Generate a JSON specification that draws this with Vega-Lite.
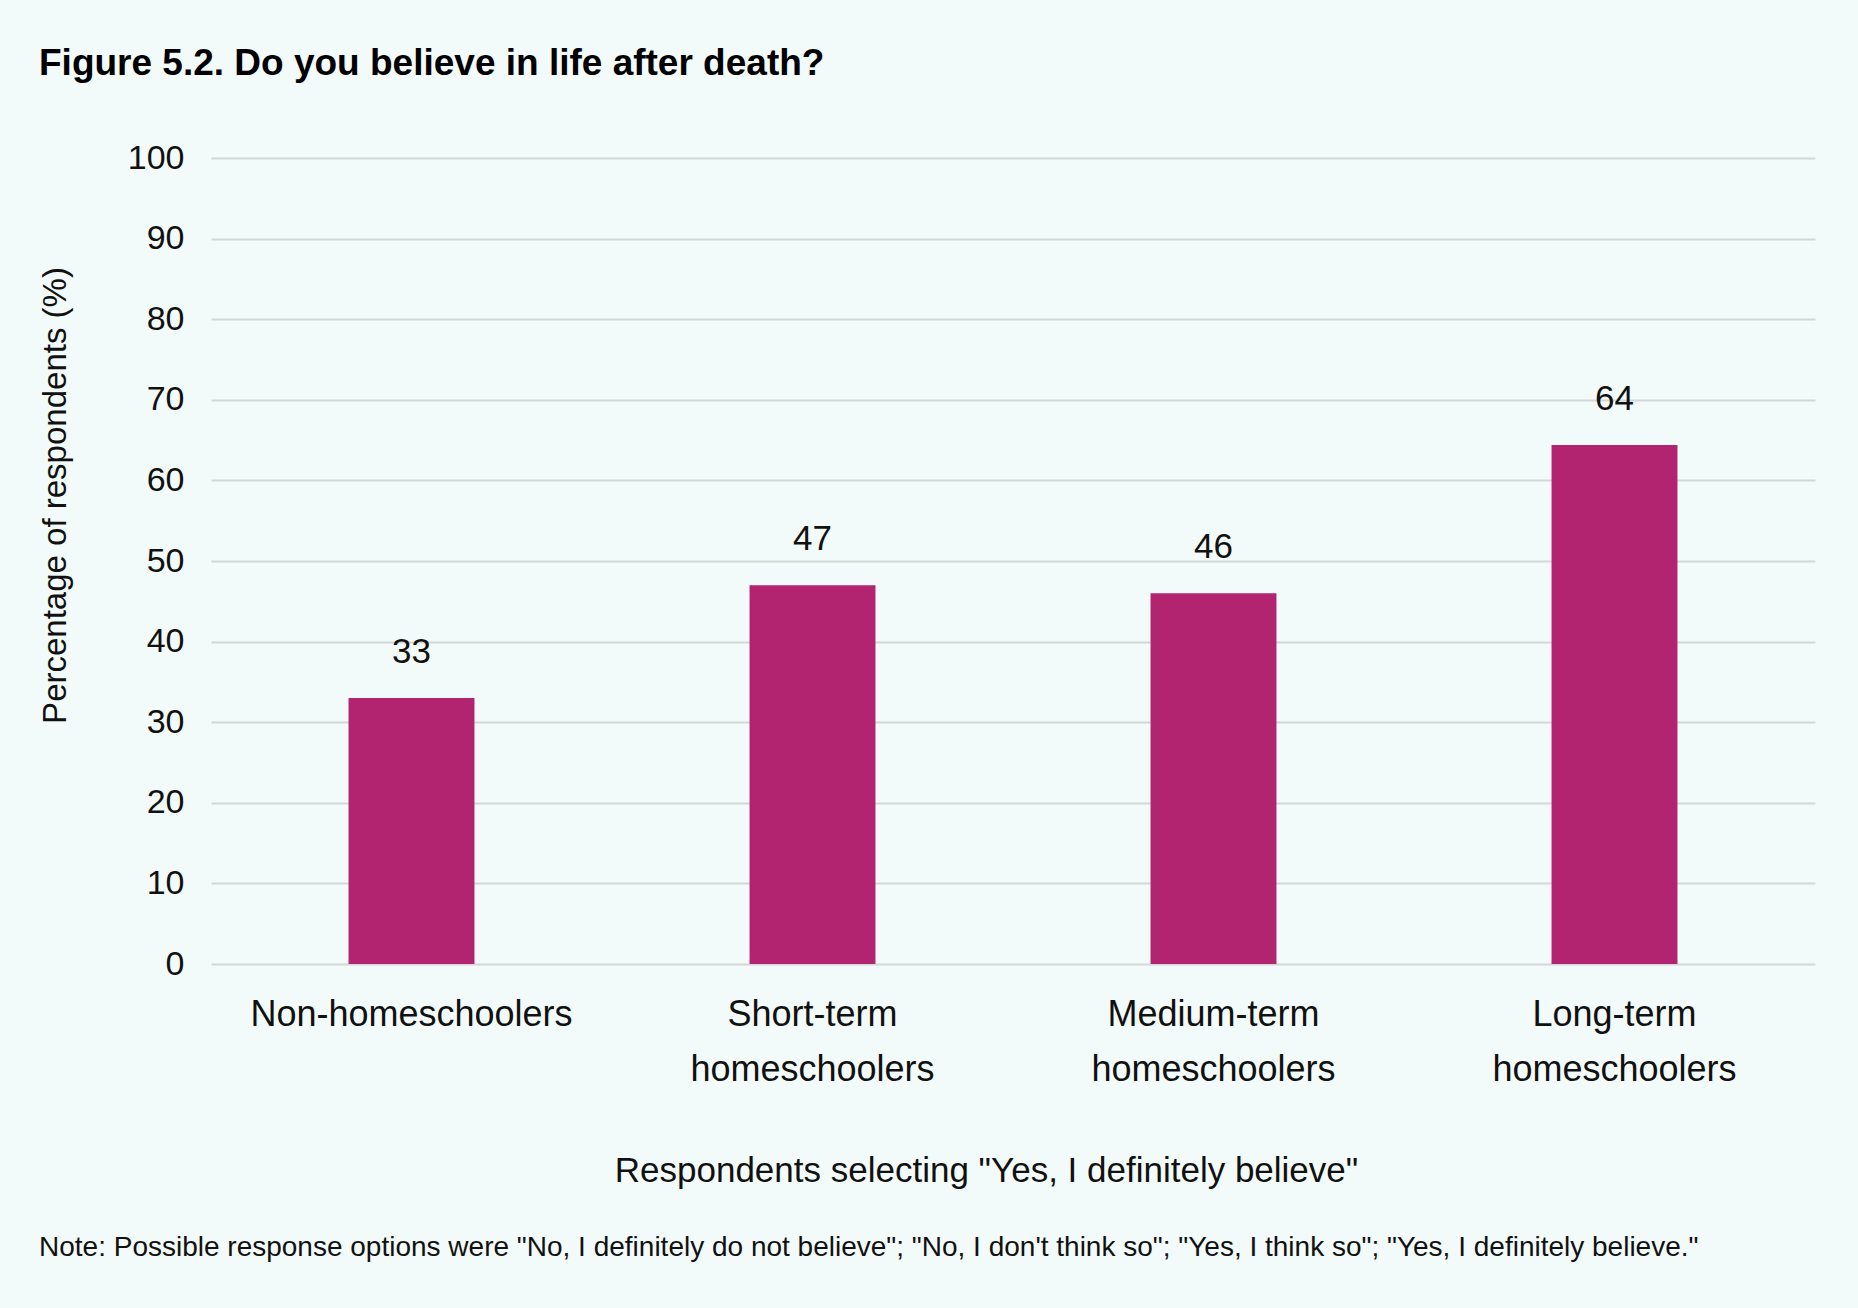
{
  "$schema": "https://vega.github.io/schema/vega-lite/v6.json",
  "background": "#F3FBFA",
  "padding": {"left": 39, "top": 45, "right": 55, "bottom": 70},
  "title": {
    "text": "Note: Possible response options were \"No, I definitely do not believe\"; \"No, I don't think so\"; \"Yes, I think so\"; \"Yes, I definitely believe.\"",
    "orient": "bottom",
    "anchor": "start",
    "frame": "bounds",
    "font": "Liberation Sans",
    "fontSize": 28,
    "fontWeight": "normal",
    "color": "#111111",
    "offset": 46
  },
  "config": {
    "view": {"stroke": null},
    "font": "Liberation Sans"
  },
  "vconcat": [
    {
      "width": 1604,
      "height": 806,
      "title": {
        "text": "Figure 5.2. Do you believe in life after death?",
        "anchor": "start",
        "frame": "bounds",
        "font": "Liberation Sans",
        "fontSize": 37,
        "fontWeight": "bold",
        "color": "#000000",
        "offset": 58
      },
      "data": {
        "values": [
          {"group": "Non-homeschoolers", "value": 33},
          {"group": "Short-term homeschoolers", "value": 47},
          {"group": "Medium-term homeschoolers", "value": 46},
          {"group": "Long-term homeschoolers", "value": 64.4}
        ]
      },
      "encoding": {
        "x": {
          "field": "group",
          "type": "nominal",
          "sort": null,
          "scale": {"paddingInner": 0.686, "paddingOuter": 0.343},
          "axis": {
            "title": "Respondents selecting \"Yes, I definitely believe\"",
            "titleFontSize": 35,
            "titleFontWeight": "normal",
            "titleColor": "#111111",
            "titleAlign": "center",
            "titleBaseline": "alphabetic",
            "titleX": 775,
            "titleY": 217,
            "labelAngle": 0,
            "labelFontSize": 36,
            "labelColor": "#111111",
            "labelLimit": 0,
            "labelPadding": 33,
            "labelLineHeight": 55,
            "labelBaseline": "top",
            "labelExpr": "split(datum.value, ' ')",
            "ticks": false,
            "domain": false
          }
        }
      },
      "layer": [
        {
          "mark": {"type": "bar", "color": "#B22370"},
          "encoding": {
            "y": {
              "field": "value",
              "type": "quantitative",
              "scale": {"domain": [0, 100], "nice": false},
              "axis": {
                "title": "Percentage of respondents (%)",
                "titleFontSize": 33,
                "titleFontWeight": "normal",
                "titleColor": "#111111",
                "titleAngle": 270,
                "titleAlign": "center",
                "titleBaseline": "bottom",
                "titleX": -139,
                "titleY": 337,
                "values": [0, 10, 20, 30, 40, 50, 60, 70, 80, 90, 100],
                "labelFontSize": 34,
                "labelColor": "#111111",
                "labelPadding": 27,
                "ticks": false,
                "domain": false,
                "grid": true,
                "gridColor": "#D3D7D8",
                "gridWidth": 2
              }
            }
          }
        },
        {
          "mark": {"type": "text", "fontSize": 35, "color": "#111111", "baseline": "alphabetic", "dy": -35},
          "encoding": {
            "y": {"field": "value", "type": "quantitative"},
            "text": {"field": "value", "type": "quantitative", "format": ".0f"}
          }
        }
      ]
    }
  ]
}
